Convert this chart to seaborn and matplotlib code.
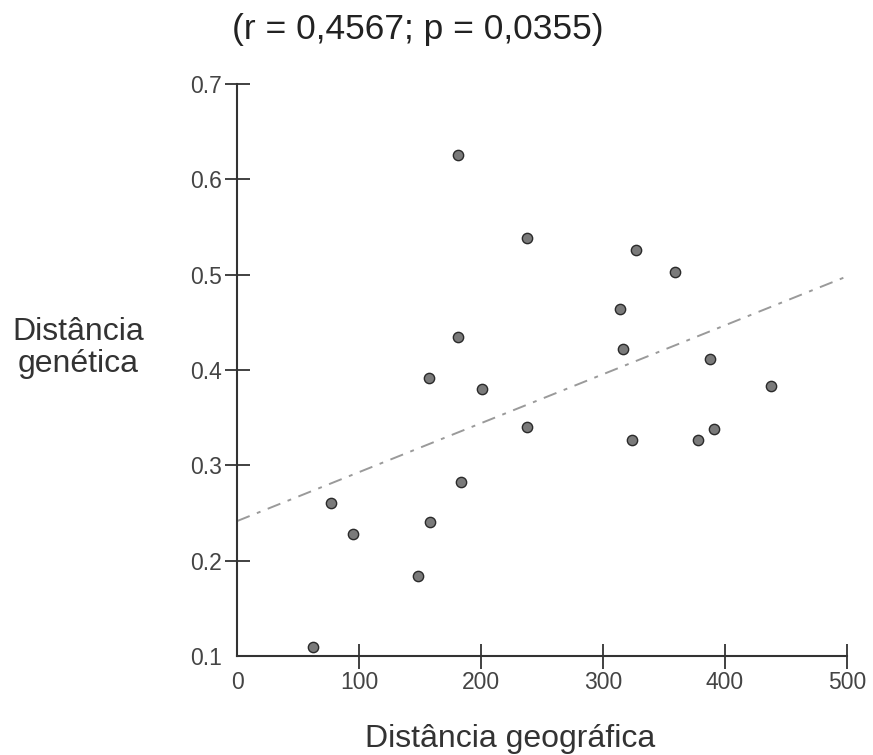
import matplotlib
matplotlib.use("Agg")
import matplotlib.pyplot as plt
import seaborn as sns
import pandas as pd

# Geographic vs genetic distance
geo_dist = [62, 77, 95, 148, 158, 184, 201, 157, 181, 181, 238,
            238, 327, 324, 359, 314, 316, 388, 391, 378, 438]
gen_dist = [0.109, 0.260, 0.228, 0.184, 0.241, 0.283, 0.380, 0.392, 0.435, 0.626, 0.539,
            0.340, 0.526, 0.327, 0.503, 0.464, 0.422, 0.412, 0.338, 0.327, 0.383]
x_ticks = [0, 100, 200, 300, 400, 500]
y_ticks = [0.1, 0.2, 0.3, 0.4, 0.5, 0.6, 0.7]

df = pd.DataFrame({"geo": geo_dist, "gen": gen_dist})

sns.set_style("ticks")
plt.rcParams["font.family"] = ["Liberation Sans", "DejaVu Sans"]

fig = plt.figure(figsize=(8.73, 7.55), dpi=100)
ax = fig.add_axes([0.2715, 0.1311, 0.6987, 0.7576])
ax.set_xlim(0, 500)
ax.set_ylim(0.1, 0.7)

# Regression line across the full x range, dashed grey
sns.regplot(data=df, x="geo", y="gen", ax=ax, ci=None, truncate=False,
            scatter=False,
            line_kws={"color": "#9a9a9a", "lw": 1.4, "linestyle": (0, (7, 4, 2, 4))})
sns.scatterplot(data=df, x="geo", y="gen", ax=ax, s=55, color="#7a7a7a",
                edgecolor="#2a2a2a", linewidth=1.0, zorder=3)

ax.set_xlim(0, 500)
ax.set_ylim(0.1, 0.7)
ax.set_xticks(x_ticks)
ax.set_yticks(y_ticks)
ax.set_xticklabels([str(t) for t in x_ticks])
ax.set_yticklabels([f"{t:.1f}" for t in y_ticks])
ax.set_xlabel("")
ax.set_ylabel("")

sns.despine(ax=ax)
for side in ["left", "bottom"]:
    ax.spines[side].set_linewidth(1.5)
    ax.spines[side].set_color("#333333")
ax.tick_params(direction="inout", length=18, width=1.3, color="#333333",
               labelsize=16.5, labelcolor="#444444", pad=2)
# no crossing tick at the origin
ax.xaxis.get_major_ticks()[0].tick1line.set_visible(False)
ax.yaxis.get_major_ticks()[0].tick1line.set_visible(False)

fig.text(418 / 873, 1 - 30 / 755, "(r = 0,4567; p = 0,0355)", ha="center", va="center",
         fontsize=25.5, color="#222222")
fig.text(78 / 873, 1 - 348 / 755, "Distância\ngenética", ha="center", va="center",
         multialignment="center", fontsize=23, color="#333333", linespacing=1.1)
fig.text(510 / 873, 1 - 747 / 755, "Distância geográfica", ha="center", va="baseline",
         fontsize=23, color="#333333")

fig.savefig("out.png", dpi=100, facecolor="white")
